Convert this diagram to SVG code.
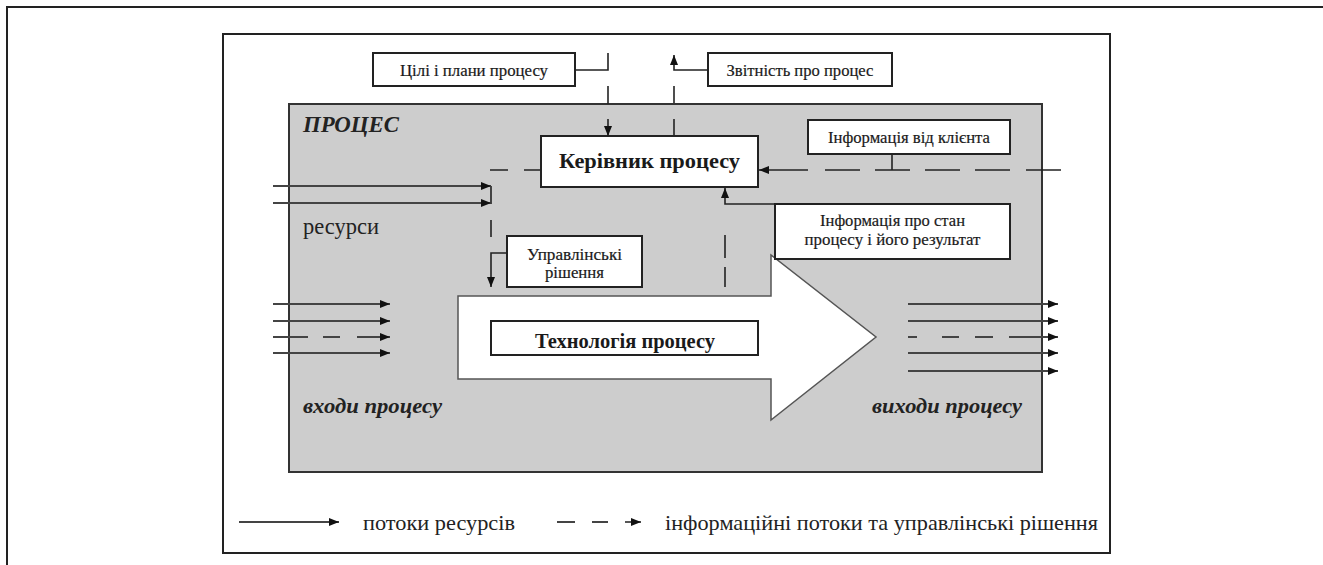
<svg xmlns="http://www.w3.org/2000/svg" width="1323" height="565" viewBox="0 0 1323 565">
<defs>
<marker id="ah" viewBox="0 0 10 8" refX="10" refY="4" markerWidth="10" markerHeight="8" orient="auto" markerUnits="userSpaceOnUse"><path d="M0,0 L10,4 L0,8 z" fill="#111"/></marker>
<style>
.frame{fill:none;stroke:#222;stroke-width:2}
.box{fill:#fff;stroke:#222;stroke-width:2}
.ln{fill:none;stroke:#222;stroke-width:1.6}
.res{fill:none;stroke:#444;stroke-width:1.8}
.t{font-family:"Liberation Serif","DejaVu Serif",serif;fill:#1a1a1a;text-anchor:middle}
.sm{font-size:16px;stroke:#1a1a1a;stroke-width:0.2}
.big{font-size:22px;font-weight:bold}
.lab{font-family:"Liberation Serif","DejaVu Serif",serif;fill:#222}
.bi{font-weight:bold;font-style:italic}
</style>
</defs>
<rect x="0" y="0" width="1323" height="565" fill="#fff"/>
<rect class="frame" x="7" y="7" width="1330" height="600" stroke-width="3"/>
<rect class="frame" x="223" y="34" width="887" height="519"/>
<g id="process">
<rect x="289" y="104" width="753" height="368" fill="#cdcdcd" stroke="#333" stroke-width="2"/>
<text class="lab bi" x="303" y="132" font-size="23" textLength="96" lengthAdjust="spacingAndGlyphs">ПРОЦЕС</text>
<text class="lab" x="303" y="234" font-size="22.5" textLength="76" lengthAdjust="spacingAndGlyphs">ресурси</text>
<text class="lab bi" x="303" y="413" font-size="22" textLength="139" lengthAdjust="spacingAndGlyphs">входи процесу</text>
<text class="lab bi" x="872" y="413" font-size="22" textLength="150" lengthAdjust="spacingAndGlyphs">виходи процесу</text>
</g>
<g id="technology">
<polygon points="458,296 771,296 771,255 876,337 771,420 771,379 458,379" fill="#fff" stroke="#555" stroke-width="1.5"/>
<rect class="box" x="491" y="321" width="267" height="34"/>
<text class="t" x="625" y="348" font-size="20" font-weight="bold" textLength="180" lengthAdjust="spacingAndGlyphs">Технологія процесу</text>
</g>
<g id="goals">
<rect class="box" x="373" y="53" width="202" height="33"/>
<text class="t sm" x="474" y="76" textLength="148" lengthAdjust="spacingAndGlyphs">Цілі і плани процесу</text>
</g>
<g id="report">
<rect class="box" x="708" y="53" width="184" height="33"/>
<text class="t sm" x="800" y="76" textLength="147" lengthAdjust="spacingAndGlyphs">Звітність про процес</text>
</g>
<g id="manager">
<rect class="box" x="541" y="136" width="217" height="51"/>
<text class="t big" x="649.5" y="168" textLength="181" lengthAdjust="spacingAndGlyphs">Керівник процесу</text>
</g>
<g id="client-info">
<rect class="box" x="808" y="120" width="202" height="34"/>
<text class="t sm" x="909" y="143" textLength="162" lengthAdjust="spacingAndGlyphs">Інформація від клієнта</text>
</g>
<g id="state-info">
<rect class="box" x="775" y="204" width="235" height="55"/>
<text class="t sm" x="892.5" y="226" textLength="145" lengthAdjust="spacingAndGlyphs">Інформація про стан</text>
<text class="t sm" x="892.5" y="245" textLength="176" lengthAdjust="spacingAndGlyphs">процесу і його результат</text>
</g>
<g id="decisions">
<rect class="box" x="507" y="236" width="135" height="51"/>
<text class="t sm" x="574.5" y="260" textLength="95" lengthAdjust="spacingAndGlyphs">Управлінські</text>
<text class="t sm" x="574.5" y="278" textLength="59" lengthAdjust="spacingAndGlyphs">рішення</text>
</g>
<g id="connectors">
<path class="ln" d="M575,70 H608 V53"/>
<path class="ln" d="M608,86 V104"/>
<path class="ln" d="M608,119 V136" marker-end="url(#ah)"/>
<path class="ln" d="M674,136 V119"/>
<path class="ln" d="M674,103 V86"/>
<path class="ln" d="M708,70 H674 V55" marker-end="url(#ah)"/>
<path class="ln" d="M1061,170 H1026 M1010,170 H975 M960,170 H925 M910,170 H875 M860,170 H825"/>
<path class="ln" d="M808,170 H759" marker-end="url(#ah)"/>
<path class="ln" d="M892,154 V170"/>
<path class="ln" d="M725,287 V267 M725,258 V235"/>
<path class="ln" d="M775,204 H725 V188" marker-end="url(#ah)"/>
<path class="ln" d="M541,170 H524 M508,170 H490"/>
<path class="ln" d="M491,186 V204 M491,220 V237"/>
<path class="ln" d="M507,253 H491 V287" marker-end="url(#ah)"/>
<path class="res" d="M273,186 H491" marker-end="url(#ah)"/>
<path class="res" d="M273,203 H491" marker-end="url(#ah)"/>
<path class="res" d="M273,304 H390" marker-end="url(#ah)"/>
<path class="res" d="M273,321 H390" marker-end="url(#ah)"/>
<path class="res" d="M273,337 H308 M323,337 H340"/>
<path class="res" d="M357,337 H390" marker-end="url(#ah)"/>
<path class="res" d="M273,353 H390" marker-end="url(#ah)"/>
<path class="res" d="M908,304 H1058" marker-end="url(#ah)"/>
<path class="res" d="M908,321 H1058" marker-end="url(#ah)"/>
<path class="res" d="M908,337 H917 M942,337 H959 M975,337 H993"/>
<path class="res" d="M1009,337 H1058" marker-end="url(#ah)"/>
<path class="res" d="M908,353 H1058" marker-end="url(#ah)"/>
<path class="res" d="M908,371 H1058" marker-end="url(#ah)"/>
</g>
<g id="legend">
<path class="res" d="M239,522 H339" marker-end="url(#ah)"/>
<text class="lab" x="363" y="530" font-size="22" textLength="152" lengthAdjust="spacingAndGlyphs">потоки ресурсів</text>
<path class="res" d="M557,522 H575 M592,522 H608"/>
<path class="res" d="M625,522 H641" marker-end="url(#ah)"/>
<text class="lab" x="665" y="530" font-size="22" textLength="433" lengthAdjust="spacingAndGlyphs">інформаційні потоки та управлінські рішення</text>
</g>
</svg>
